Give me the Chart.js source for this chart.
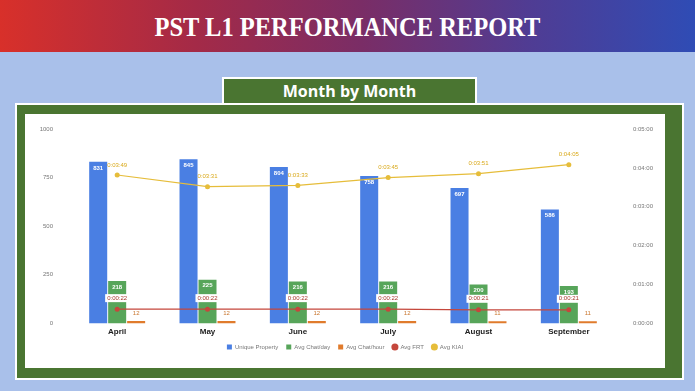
<!DOCTYPE html>
<html>
<head>
<meta charset="utf-8">
<script src="https://cdn.jsdelivr.net/npm/chart.js@4.4.1/dist/chart.umd.min.js"></script>
<style>
  html, body { margin: 0; padding: 0; }
  body { width: 695px; height: 391px; background: #a9c0ea; position: relative; overflow: hidden; }
  #header {
    position: absolute; left: 0; top: 0; width: 695px; height: 52px;
    background: linear-gradient(90deg, #d8302a 0%, #a42a47 28%, #7a2d66 52%, #503c93 76%, #2f4cb5 100%);
  }
  #title {
    position: absolute; left: 0; width: 695px; top: 11px; text-align: center;
    font-family: "Liberation Serif", serif; font-weight: bold; font-size: 28px; color: #fff;
    transform: scaleX(0.875); transform-origin: 347px 0;
  }
  #subtitle {
    position: absolute; left: 222px; top: 77px; width: 251px; height: 24px;
    background: #4a7531; border: 2px solid #fff; border-bottom: none;
    color: #fff; font-family: "Open Sans", sans-serif; font-weight: bold; font-size: 16px;
    text-align: center; line-height: 25px;
  }
  #frame {
    position: absolute; left: 15px; top: 103px; width: 665px; height: 273px;
    background: #4a7531; border: 2px solid #fff;
  }
  #chartBox {
    position: absolute; left: 25px; top: 114px; width: 640px; height: 254px; background: #fff;
  }
</style>
</head>
<body>
<div id="header"></div>
<div id="title">PST L1 PERFORMANCE REPORT</div>
<div id="frame"></div>
<div id="subtitle">Month by Month</div>
<div id="chartBox"><canvas id="monthChart" width="640" height="254"></canvas></div>
<script>
const months = ['April', 'May', 'June', 'July', 'August', 'September'];
const uniqueProperty = [831, 845, 804, 758, 697, 586];
const avgChatDay = [218, 225, 216, 216, 200, 193];
const avgChatHour = [12, 12, 12, 12, 11, 11];
// seconds
const avgFrt = [22, 22, 22, 22, 21, 21];
const avgKiai = [229, 211, 213, 225, 231, 245];
const countTicks = [0, 250, 500, 750, 1000];
const timeTicks = [0, 60, 120, 180, 240, 300];

function toHms(sec) {
    const m = Math.floor(sec / 60);
    const s = sec % 60;
    return '0:' + String(m).padStart(2, '0') + ':' + String(s).padStart(2, '0');
}

const labelStyles = [
    { color: '#fff', pos: 'inside', bold: true },
    { color: '#fff', pos: 'inside', bold: true },
    { color: '#c9762e', pos: 'above', gap: 8 },
    { color: '#a8382c', pos: 'above', gap: 11, box: true, time: true },
    { color: '#d9a91a', pos: 'above', gap: 10, time: true }
];

const valueLabels = {
    id: 'valueLabels',
    afterDatasetsDraw(chart) {
        const ctx = chart.ctx;
        ctx.save();
        ctx.textAlign = 'center';
        ctx.textBaseline = 'middle';
        chart.data.datasets.forEach((ds, i) => {
            const st = labelStyles[i];
            const meta = chart.getDatasetMeta(i);
            meta.data.forEach((el, j) => {
                const v = ds.data[j];
                const txt = st.time ? toHms(v) : String(v);
                ctx.font = (st.bold ? 'bold ' : '') + '6px "Liberation Sans", Arial, sans-serif';
                let y = st.pos === 'inside' ? el.y + 6 : el.y - st.gap;
                if (st.box) {
                    const w = ctx.measureText(txt).width + 4;
                    ctx.fillStyle = '#fff';
                    ctx.fillRect(el.x - w / 2, y - 4, w, 8);
                }
                ctx.fillStyle = st.color;
                ctx.fillText(txt, el.x, y);
            });
        });
        ctx.restore();
    }
};

const font6 = { size: 6, family: '"Liberation Sans", Arial, sans-serif' };

function fitSide(width) {
    return s => {
        s.width = width;
        s.paddingTop = 3;
        s.paddingBottom = 3;
    };
}

new Chart(document.getElementById('monthChart'), {
    data: {
        labels: months,
        datasets: [
            { type: 'bar', label: 'Unique Property', data: uniqueProperty, backgroundColor: '#4a7fe3', yAxisID: 'y', order: 1, pointStyle: 'rect' },
            { type: 'bar', label: 'Avg Chat/day', data: avgChatDay, backgroundColor: '#57a55a', yAxisID: 'y', order: 1, pointStyle: 'rect' },
            { type: 'bar', label: 'Avg Chat/hour', data: avgChatHour, backgroundColor: '#e07b2c', yAxisID: 'y', order: 1, pointStyle: 'rect' },
            { type: 'line', label: 'Avg FRT', data: avgFrt, borderColor: '#c5473c', backgroundColor: '#c5473c', borderWidth: 1.2, pointRadius: 2.5, pointBorderWidth: 0, yAxisID: 'y1', order: 0, pointStyle: 'circle' },
            { type: 'line', label: 'Avg KIAI', data: avgKiai, borderColor: '#e6bd3a', backgroundColor: '#e6bd3a', borderWidth: 1.2, pointRadius: 2.5, pointBorderWidth: 0, yAxisID: 'y1', order: 0, pointStyle: 'circle' }
        ]
    },
    options: {
        responsive: false,
        animation: false,
        datasets: { bar: { categoryPercentage: 0.63, barPercentage: 0.95 } },
        layout: { padding: { top: 15, bottom: 8, left: 0, right: 0 } },
        plugins: {
            tooltip: { enabled: false },
            legend: {
                position: 'bottom',
                labels: {
                    usePointStyle: true, boxWidth: 5, boxHeight: 5, padding: 8,
                    color: '#777', font: font6,
                    sort: (a, b) => a.datasetIndex - b.datasetIndex
                }
            }
        },
        scales: {
            x: {
                grid: { display: false, drawTicks: false },
                border: { display: false },
                afterFit: s => { s.height -= 5; },
                ticks: { padding: 4, color: '#222', font: { size: 8, weight: 'bold', family: '"Liberation Sans", Arial, sans-serif' } }
            },
            y: {
                position: 'left', min: 0, max: 1000,
                grid: { display: false, drawTicks: false },
                border: { display: false },
                afterBuildTicks: s => { s.ticks = countTicks.map(v => ({ value: v })); },
                afterFit: fitSide(47),
                ticks: { padding: 19, color: '#777', callback: v => String(v), font: font6 }
            },
            y1: {
                position: 'right', min: 0, max: 300,
                grid: { display: false, drawTicks: false },
                border: { display: false },
                afterBuildTicks: s => { s.ticks = timeTicks.map(v => ({ value: v })); },
                afterFit: fitSide(51),
                ticks: { padding: 19, color: '#777', callback: v => toHms(v), font: font6 }
            }
        }
    },
    plugins: [valueLabels]
});
</script>
</body>
</html>
